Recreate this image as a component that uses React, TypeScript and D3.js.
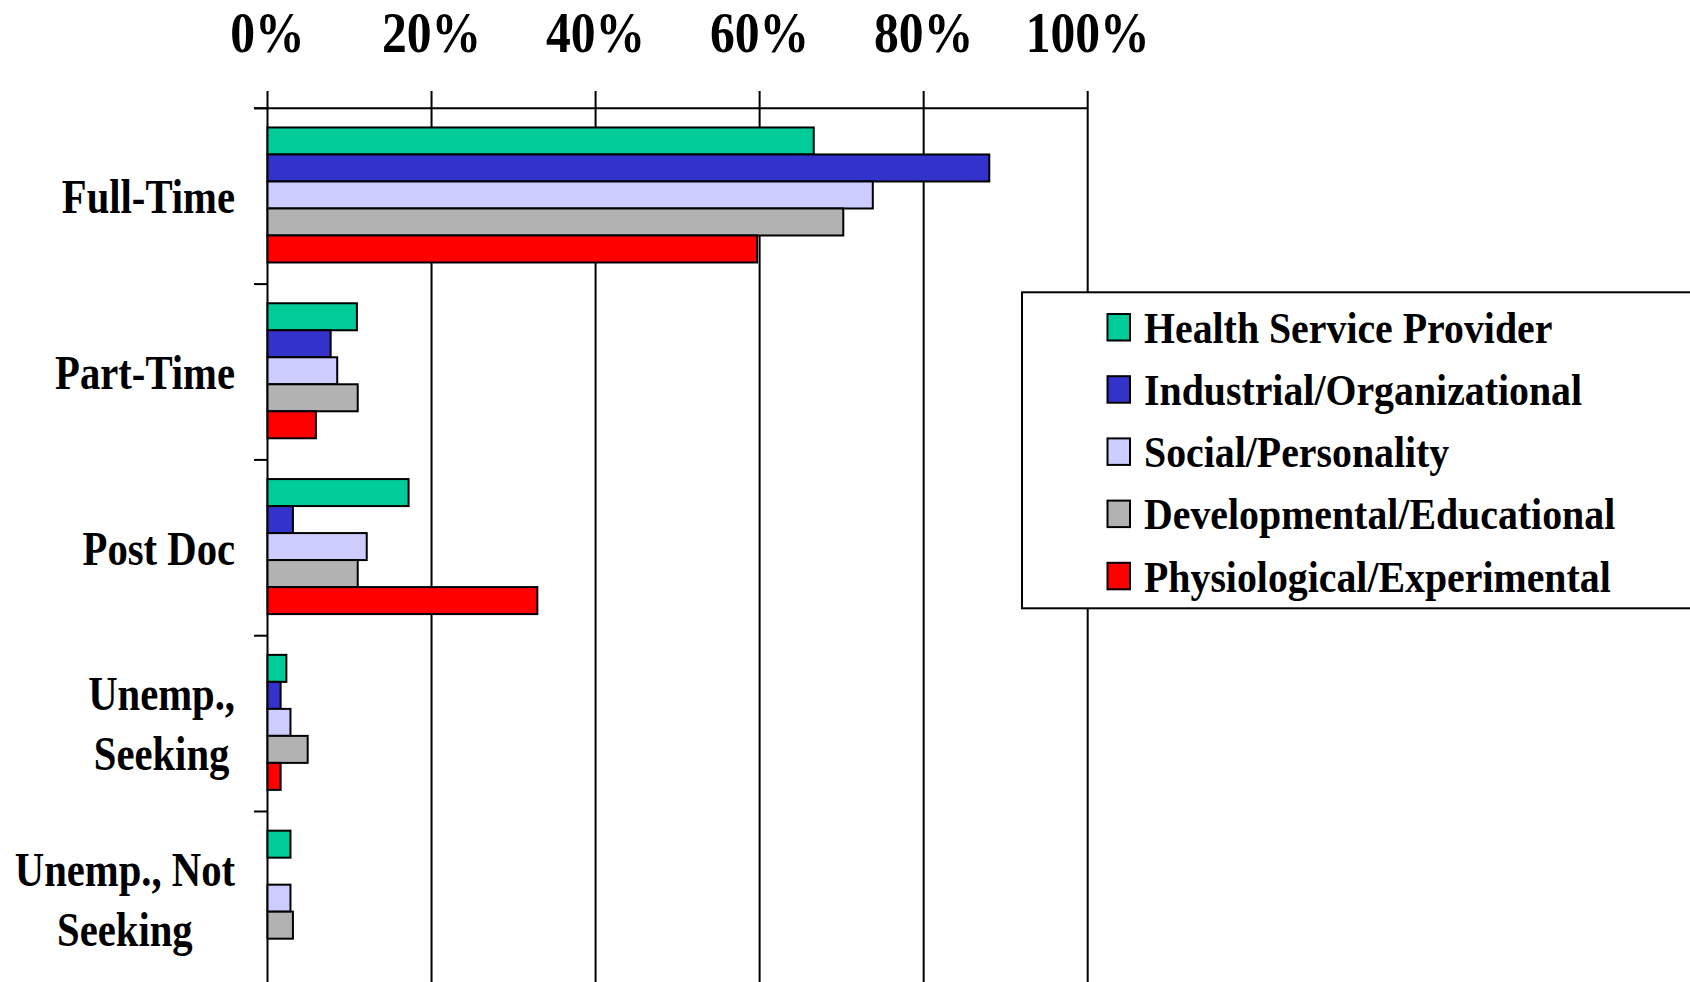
import React, { useLayoutEffect, useRef, useState } from "react";
import * as d3 from "d3";

const categories = ["Full-Time", "Part-Time", "Post Doc", "Unemp., Seeking", "Unemp., Not Seeking"];
const categoryLines = [["Full-Time"], ["Part-Time"], ["Post Doc"], ["Unemp.,", "Seeking"], ["Unemp., Not", "Seeking"]];

const seriesNames = [
  "Health Service Provider",
  "Industrial/Organizational",
  "Social/Personality",
  "Developmental/Educational",
  "Physiological/Experimental",
];
const seriesColors = ["#00CC99", "#3333CC", "#CCCCFF", "#B2B2B2", "#FF0000"];

const healthService = [66.6, 10.9, 17.2, 2.3, 2.8];
const industrialOrg = [88.0, 7.7, 3.1, 1.6, 0];
const socialPers = [73.8, 8.5, 12.1, 2.8, 2.8];
const devEd = [70.2, 11.0, 11.0, 4.9, 3.1];
const physExp = [59.7, 5.9, 32.9, 1.6, 0];
const seriesValues = [healthService, industrialOrg, socialPers, devEd, physExp];

const xTicks = [0, 20, 40, 60, 80, 100];
const xTickLabels = ["0%", "20%", "40%", "60%", "80%", "100%"];

const W = 1690;
const H = 982;
const FONT = "'Liberation Serif', 'Times New Roman', serif";

function CatLabel({ lines, rightX, cy }: { lines: string[]; rightX: number; cy: number }) {
  const ref = useRef<SVGGElement>(null);
  const [w, setW] = useState(0);
  useLayoutEffect(() => {
    if (ref.current) setW(ref.current.getBBox().width);
  }, []);
  const sx = 0.83;
  const lh = 60;
  const n = lines.length;
  return (
    <g transform={`translate(${rightX},${cy}) scale(${sx},1)`}>
      <g ref={ref} transform={`translate(${-w / 2},0)`}>
        {lines.map((l, i) => (
          <text
            key={i}
            x={0}
            y={(i - (n - 1) / 2) * lh + 19}
            textAnchor="middle"
            fontFamily={FONT}
            fontWeight="bold"
            fontSize={49}
            fill="#000"
          >
            {l}
          </text>
        ))}
      </g>
    </g>
  );
}

export default function App() {
  const x0 = 267.5;
  const x1 = 1087.7;
  const x = d3.scaleLinear().domain([0, 100]).range([x0, x1]);
  const yTop = 108.3;
  const yBot = 987.3;
  const y = d3
    .scaleBand<string>()
    .domain(categories)
    .range([yTop, yBot])
    .paddingInner(0.232)
    .paddingOuter(0.116)
    .align(0.47);
  const inner = d3
    .scaleBand<number>()
    .domain(d3.range(seriesNames.length))
    .range([0, y.bandwidth()]);
  const step = (yBot - yTop) / categories.length;
  const catTicks = d3.range(categories.length + 1).map((i) => yTop + i * step);

  const legX = 1022;
  const legY = 292.3;
  const legH = 316;
  const rowH = 62.2;

  return (
    <svg
      width={W}
      height={H}
      style={{ position: "absolute", left: 0, top: 0, background: "#fff" }}
    >
      <rect x={0} y={0} width={W} height={H} fill="#fff" />
      {xTicks.map((t) => (
        <line key={t} x1={x(t)} x2={x(t)} y1={91} y2={H + 10} stroke="#000" strokeWidth={2} />
      ))}
      <line x1={254} x2={x(100)} y1={yTop} y2={yTop} stroke="#000" strokeWidth={2} />
      {catTicks.map((t, i) => (
        <line key={i} x1={254} x2={x0} y1={t} y2={t} stroke="#000" strokeWidth={2} />
      ))}
      {xTicks.map((t, i) => (
        <text
          key={t}
          transform={`translate(${x(t)},51.5) scale(0.87,1)`}
          textAnchor="middle"
          fontFamily={FONT}
          fontWeight="bold"
          fontSize={57}
          fill="#000"
        >
          {xTickLabels[i]}
        </text>
      ))}
      {categories.map((c, ci) =>
        seriesValues.map((vals, si) =>
          vals[ci] > 0 ? (
            <rect
              key={`${ci}-${si}`}
              x={x(0)}
              y={(y(c) as number) + (inner(si) as number)}
              width={x(vals[ci]) - x(0)}
              height={inner.bandwidth()}
              fill={seriesColors[si]}
              stroke="#000"
              strokeWidth={2}
            />
          ) : null
        )
      )}
      {categories.map((c, ci) => (
        <CatLabel key={c} lines={categoryLines[ci]} rightX={235} cy={(y(c) as number) + y.bandwidth() / 2 - 1} />
      ))}
      <rect x={legX} y={legY} width={W - legX + 20} height={legH} fill="#fff" stroke="#000" strokeWidth={2} />
      {seriesNames.map((s, i) => (
        <g key={s}>
          <rect
            x={1107.5}
            y={314 + i * rowH}
            width={22.5}
            height={26.5}
            fill={seriesColors[i]}
            stroke="#000"
            strokeWidth={2}
          />
          <text
            transform={`translate(1144,${342.7 + i * rowH}) scale(0.895,1)`}
            fontFamily={FONT}
            fontWeight="bold"
            fontSize={44.5}
            fill="#000"
          >
            {s}
          </text>
        </g>
      ))}
    </svg>
  );
}
